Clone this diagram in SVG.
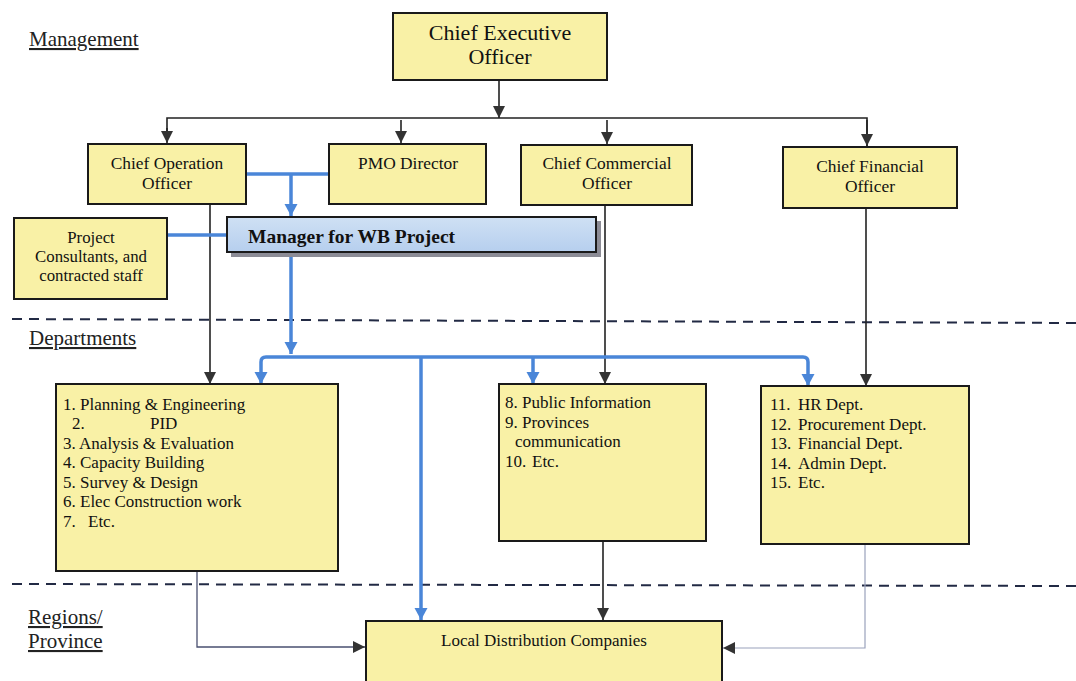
<svg xmlns="http://www.w3.org/2000/svg" width="1076" height="681" viewBox="0 0 1076 681">
<defs>
<style>
.box{fill:#f9f1a6;stroke:#1a1a1a;stroke-width:2}
.t{font-family:"Liberation Serif","Times New Roman",serif;fill:#111}
.c{text-anchor:middle}
.blk{fill:none;stroke:#222;stroke-width:1.6}
.blu{fill:none;stroke:#4a86d8;stroke-width:3.5;stroke-linejoin:round}
.thin{fill:none;stroke:#4a5070;stroke-width:1.3}
.thinl{fill:none;stroke:#9aa2bc;stroke-width:1.2}
.dash{stroke:#222a44;stroke-width:2;stroke-dasharray:10 7;fill:none}
.lbl{font-family:"Liberation Serif","Times New Roman",serif;font-size:21px;fill:#222;text-decoration:underline}
</style>
<marker id="ab" markerWidth="14" markerHeight="14" refX="12" refY="6" orient="auto" markerUnits="userSpaceOnUse"><path d="M0,0 L12,6 L0,12 z" fill="#333"/></marker>
<marker id="au" markerWidth="14" markerHeight="14" refX="12" refY="6.5" orient="auto" markerUnits="userSpaceOnUse"><path d="M0,0 L12,6.5 L0,13 z" fill="#4a86d8"/></marker>
<linearGradient id="gb" x1="0" y1="0" x2="0" y2="1"><stop offset="0" stop-color="#cfe0f4"/><stop offset="1" stop-color="#b6cfee"/></linearGradient>
</defs>

<g id="section-labels">
<text class="lbl" x="29" y="46">Management</text>
<text class="lbl" x="29" y="345">Departments</text>
<text class="lbl" x="28" y="624">Regions/</text>
<text class="lbl" x="28" y="648">Province</text>
</g>

<g id="dividers">
<path class="dash" d="M12,319 L1076,323"/>
<path class="dash" d="M12,584 L1076,586"/>
</g>

<g id="connectors">
<path class="blk" d="M499,80 V118" marker-end="url(#ab)"/>
<path class="blk" d="M167,142 V118 H867 V146" stroke-width="1.4"/>
<path class="blk" d="M167,128 V143" marker-end="url(#ab)"/>
<path class="blk" d="M401,120 V143" marker-end="url(#ab)"/>
<path class="blk" d="M607,120 V144" marker-end="url(#ab)"/>
<path class="blk" d="M867,120 V146" marker-end="url(#ab)"/>
<path class="blk" d="M210,204 V384" marker-end="url(#ab)"/>
<path class="blk" d="M605,205 V384" marker-end="url(#ab)"/>
<path class="blk" d="M866,208 V386" marker-end="url(#ab)"/>
<path class="blk" d="M537,518 V541" marker-end="url(#ab)"/>
<path class="blk" d="M603,541 V620" marker-end="url(#ab)"/>
<path class="thin" d="M197,571 V647 H365" marker-end="url(#ab)"/>
<path class="thinl" d="M865,544 V648 H723" marker-end="url(#ab)"/>
<path class="blu" d="M246,174 H329"/>
<path class="blu" d="M291,174 V216" marker-end="url(#au)"/>
<path class="blu" d="M167,235 H227"/>
<path class="blu" d="M291,253 V354" marker-end="url(#au)"/>
<path class="blu" d="M421,357 H266 Q261,357 261,362 V384" marker-end="url(#au)"/>
<path class="blu" d="M421,357 H803 Q808,357 808,362 V386" marker-end="url(#au)"/>
<path class="blu" d="M533,357 V384" marker-end="url(#au)"/>
<path class="blu" d="M421,357 V620" marker-end="url(#au)"/>
</g>

<g id="ceo">
<rect class="box" x="393" y="13" width="214" height="67"/>
<text class="t c" x="500" y="40" font-size="22">Chief Executive</text>
<text class="t c" x="500" y="64" font-size="22">Officer</text>
</g>

<g id="coo">
<rect class="box" x="88" y="144" width="158" height="60"/>
<text class="t c" x="167" y="169" font-size="17.4">Chief Operation</text>
<text class="t c" x="167" y="189" font-size="17.4">Officer</text>
</g>

<g id="pmo">
<rect class="box" x="329" y="144" width="157" height="60"/>
<text class="t c" x="408" y="169" font-size="17.4">PMO Director</text>
</g>

<g id="cco">
<rect class="box" x="521" y="145" width="171" height="60"/>
<text class="t c" x="607" y="169" font-size="17.4">Chief Commercial</text>
<text class="t c" x="607" y="189" font-size="17.4">Officer</text>
</g>

<g id="cfo">
<rect class="box" x="783" y="147" width="174" height="61"/>
<text class="t c" x="870" y="172" font-size="17.4">Chief Financial</text>
<text class="t c" x="870" y="192" font-size="17.4">Officer</text>
</g>

<g id="consultants">
<rect class="box" x="14" y="218" width="153" height="81"/>
<text class="t c" x="91" y="243" font-size="16.8">Project</text>
<text class="t c" x="91" y="262" font-size="16.8">Consultants, and</text>
<text class="t c" x="91" y="281" font-size="16.8">contracted staff</text>
</g>

<g id="wb-manager">
<rect x="231" y="221" width="370" height="36" fill="#8c8c96"/>
<rect x="227" y="217" width="369" height="35" fill="url(#gb)" stroke="#1a1a1a" stroke-width="2"/>
<text class="t" x="248" y="243" font-size="19.5" font-weight="bold">Manager for WB Project</text>
</g>

<g id="dept-operations">
<rect class="box" x="56" y="384" width="282" height="187"/>
<g class="t" font-size="17">
<text x="63" y="410">1. Planning &amp; Engineering</text>
<text x="72" y="429">2.</text><text x="150" y="429">PID</text>
<text x="63" y="449">3. Analysis &amp; Evaluation</text>
<text x="63" y="468">4. Capacity Building</text>
<text x="63" y="488">5. Survey &amp; Design</text>
<text x="63" y="507">6. Elec Construction work</text>
<text x="63" y="527">7.</text><text x="88" y="527">Etc.</text>
</g>
</g>

<g id="dept-commercial">
<rect class="box" x="499" y="384" width="207" height="157"/>
<g class="t" font-size="17">
<text x="505" y="408">8. Public Information</text>
<text x="505" y="428">9. Provinces</text>
<text x="515" y="447">communication</text>
<text x="505" y="467">10.</text><text x="532" y="467">Etc.</text>
</g>
</g>

<g id="dept-finance">
<rect class="box" x="761" y="386" width="208" height="158"/>
<g class="t" font-size="17">
<text x="770" y="410">11.</text><text x="798" y="410">HR Dept.</text>
<text x="770" y="430">12.</text><text x="798" y="430">Procurement Dept.</text>
<text x="770" y="449">13.</text><text x="798" y="449">Financial Dept.</text>
<text x="770" y="469">14.</text><text x="798" y="469">Admin Dept.</text>
<text x="770" y="488">15.</text><text x="798" y="488">Etc.</text>
</g>
</g>

<g id="ldc">
<rect class="box" x="366" y="621" width="356" height="70"/>
<text class="t c" x="544" y="646" font-size="17">Local Distribution Companies</text>
</g>
</svg>
